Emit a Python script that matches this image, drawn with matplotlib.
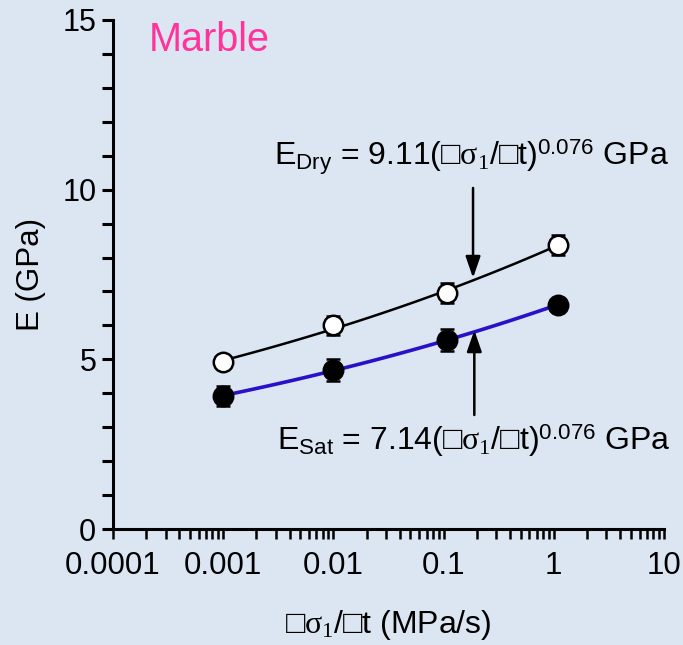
import numpy as np
import matplotlib
matplotlib.use("Agg")
import matplotlib.pyplot as plt
from matplotlib.ticker import LogLocator, MultipleLocator, NullFormatter

plt.rcParams['font.family'] = ['Liberation Sans', 'DejaVu Sans']
plt.rcParams['mathtext.fontset'] = 'custom'
plt.rcParams['mathtext.rm'] = 'Liberation Sans'
plt.rcParams['mathtext.it'] = 'Liberation Serif'
plt.rcParams['mathtext.cal'] = 'Liberation Serif'

# data
rate = [0.001, 0.01, 0.107, 1.09]
e_dry = [4.92, 6.01, 6.96, 8.37]
e_dry_err = [0.15, 0.28, 0.30, 0.30]
e_sat = [3.92, 4.69, 5.57, 6.60]
e_sat_err = [0.28, 0.33, 0.33, 0.15]
xticks = [0.0001, 0.001, 0.01, 0.1, 1, 10]
xticklabels = ['0.0001', '0.001', '0.01', '0.1', '1', '10']
yticks = [0, 5, 10, 15]

bg = '#dce6f2'
fig = plt.figure(figsize=(6.83, 6.45), dpi=100, facecolor=bg)
ax = fig.add_axes([0.1654, 0.1798, 0.9722 - 0.1654, 0.969 - 0.1798])
ax.set_facecolor(bg)
ax.set_xscale('log')
ax.set_xlim(1e-4, 10)
ax.set_ylim(0, 15)

for s in ['top', 'right']:
    ax.spines[s].set_visible(False)
for s in ['left', 'bottom']:
    ax.spines[s].set_linewidth(2.2)

ax.set_xticks(xticks)
ax.set_xticklabels(xticklabels)
ax.xaxis.set_minor_locator(LogLocator(base=10, subs=np.arange(2, 10), numticks=20))
ax.xaxis.set_minor_formatter(NullFormatter())
ax.set_yticks(yticks)
ax.yaxis.set_minor_locator(MultipleLocator(1))
ax.tick_params(axis='x', which='both', direction='out', length=7, width=1.8, labelsize=22.5, pad=9)
ax.tick_params(axis='y', which='both', direction='out', length=8, width=2.2, labelsize=22, pad=4)

# power-law fits through the data
xf = np.geomspace(rate[0], rate[-1], 100)
pd_ = np.polyfit(np.log10(rate), np.log10(e_dry), 1)
ps_ = np.polyfit(np.log10(rate), np.log10(e_sat), 1)
ax.plot(xf, 10 ** np.polyval(pd_, np.log10(xf)), color='black', lw=1.8, zorder=2)
ax.plot(xf, 10 ** np.polyval(ps_, np.log10(xf)), color='#2a10c8', lw=2.6, zorder=2)

ax.errorbar(rate, e_dry, yerr=e_dry_err, fmt='none', ecolor='black', elinewidth=1.8,
            capsize=5, capthick=1.8, zorder=3)
ax.errorbar(rate, e_sat, yerr=e_sat_err, fmt='none', ecolor='black', elinewidth=1.8,
            capsize=5, capthick=1.8, zorder=3)
ax.plot(rate, e_dry, 'o', ms=14, mfc='white', mec='black', mew=1.8, zorder=4, clip_on=False)
ax.plot(rate, e_sat, 'o', ms=14, mfc='black', mec='black', mew=1.8, zorder=4, clip_on=False)

ax.set_ylabel('E (GPa)', fontsize=22.5, labelpad=12)
ax.set_xlabel(r'□$\sigma_{\mathcal{1}}$/□t (MPa/s)', fontsize=23, labelpad=19)

ax.text(2.1e-4, 14.97, 'Marble', color='#ff3399', fontsize=28.5, ha='left', va='top')

ax.text(0.18, 10.95, r'E$_{\mathrm{Dry}}$ = 9.11(□$\sigma_{\mathcal{1}}$/□t)$^{\mathrm{0.076}}$ GPa',
        fontsize=23, ha='center', va='center')
ax.text(0.19, 2.6, r'E$_{\mathrm{Sat}}$ = 7.14(□$\sigma_{\mathcal{1}}$/□t)$^{\mathrm{0.076}}$ GPa',
        fontsize=23, ha='center', va='center')

arrow = dict(arrowstyle='-|>,head_length=1.3,head_width=0.45', color='black', lw=1.8,
             shrinkA=0, shrinkB=0)
ax.annotate('', xy=(0.185, 7.4), xytext=(0.185, 10.05), arrowprops=arrow)
ax.annotate('', xy=(0.19, 5.86), xytext=(0.19, 3.36), arrowprops=arrow)

fig.savefig('out.png', dpi=100, facecolor=bg)
